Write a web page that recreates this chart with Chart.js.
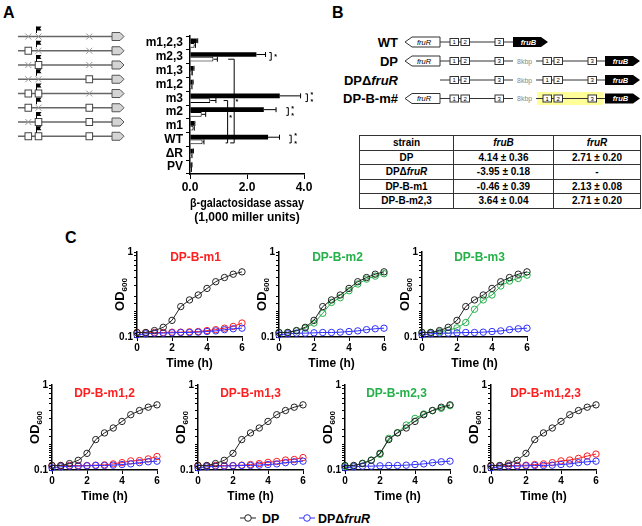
<!DOCTYPE html>
<html>
<head>
<meta charset="utf-8">
<script src="https://cdn.jsdelivr.net/npm/chart.js@4.4.0/dist/chart.umd.min.js"></script>
<style>
body{margin:0;background:#fff;width:642px;height:526px;position:relative;overflow:hidden;font-family:"Liberation Sans",Arial,sans-serif;font-weight:bold;color:#000;}
canvas{position:absolute;}
.letter{position:absolute;font-size:16px;font-weight:bold;}
svg{position:absolute;left:0;top:0;}
table{position:absolute;left:359px;top:135px;width:282px;border-collapse:collapse;font-size:10px;}
td{border:1px solid #333;text-align:center;height:13.5px;padding:0;line-height:13.5px;}
</style>
</head>
<body>
<div class="letter" style="left:3px;top:4px">A</div>
<div class="letter" style="left:332px;top:4px">B</div>
<div class="letter" style="left:65px;top:229px">C</div>
<svg id="schem" width="642" height="526"></svg>
<table>
<tr><td style="width:93px">strain</td><td style="width:99px"><i>fruB</i></td><td><i>fruR</i></td></tr>
<tr><td>DP</td><td>4.14 ± 0.36</td><td>2.71 ± 0.20</td></tr>
<tr><td>DPΔ<i>fruR</i></td><td>-3.95 ± 0.18</td><td>-</td></tr>
<tr><td>DP-B-m1</td><td>-0.46 ± 0.39</td><td>2.13 ± 0.08</td></tr>
<tr><td>DP-B-m2,3</td><td>3.64 ± 0.04</td><td>2.71 ± 0.20</td></tr>
</table>
<canvas id="bars" width="194" height="203" style="left:130px;top:26px"></canvas>
<canvas id="c1" width="158" height="131"></canvas>
<canvas id="c2" width="158" height="131"></canvas>
<canvas id="c3" width="158" height="131"></canvas>
<canvas id="c4" width="158" height="131"></canvas>
<canvas id="c5" width="158" height="131"></canvas>
<canvas id="c6" width="158" height="131"></canvas>
<canvas id="c7" width="158" height="131"></canvas>
<script>
// panel A data (1,000 miller units)
const strains = ['m1,2,3','m2,3','m1,3','m1,2','m3','m2','m1','WT','ΔR','PV'];
const blackMean = [0.24, 2.33, 0.12, 0.09, 3.15, 2.59, 0.15, 2.74, 0.10, 0.06];
const blackErr  = [0.03, 0.32, 0.02, 0.02, 0.73, 0.43, 0.02, 0.40, 0.02, 0.01];
const whiteMean = [0.16, 0.82, 0.06, 0.05, 0.71, 0.41, 0.12, 0.44, 0.05, 0.04];
const whiteErr  = [0.03, 0.14, 0.02, 0.02, 0.20, 0.14, 0.03, 0.05, 0.02, 0.01];
// which promoter sites are intact (1) or mutated (0) per row
const sitePattern = [[0,0,0],[1,0,0],[0,1,0],[0,0,1],[1,1,0],[1,0,1],[0,1,1],[1,1,1]];

// panel C growth curves (OD600)
const timeH = [0,0.5,1,1.5,2,2.5,3,3.5,4,4.5,5,5.5,6];
const dpOD      = [0.113,0.113,0.119,0.130,0.157,0.228,0.273,0.312,0.373,0.447,0.501,0.548,0.584];
const dpDfruOD  = [0.106,0.109,0.111,0.111,0.112,0.113,0.113,0.114,0.116,0.118,0.122,0.125,0.127];
const m1OD      = [0.113,0.112,0.113,0.113,0.114,0.114,0.115,0.116,0.119,0.122,0.127,0.133,0.146];
const m2OD      = [0.113,0.113,0.118,0.127,0.146,0.190,0.255,0.290,0.350,0.420,0.480,0.520,0.555];
const m3OD      = [0.113,0.113,0.115,0.120,0.128,0.148,0.212,0.273,0.312,0.398,0.455,0.488,0.534];
const m12OD     = [0.113,0.112,0.113,0.113,0.113,0.114,0.115,0.118,0.122,0.128,0.129,0.135,0.144];
const m13OD     = [0.113,0.112,0.113,0.113,0.113,0.114,0.116,0.119,0.123,0.126,0.131,0.133,0.140];
const m23OD     = [0.110,0.112,0.120,0.131,0.153,0.236,0.275,0.338,0.405,0.456,0.499,0.531,0.571];
const m123OD    = [0.113,0.112,0.113,0.113,0.114,0.116,0.118,0.122,0.128,0.131,0.137,0.146,0.154];

const RED = '#ff1f1f', GREEN = '#25b04a', BLUE = '#3030ff';

Chart.defaults.font.family = "'Liberation Sans', Arial, sans-serif";
Chart.defaults.font.weight = 'bold';
Chart.defaults.color = '#000';

//---- schematics (A and B) + legend
let s = '';
sitePattern.forEach((p, i) => {
  const y = 36.5 + i * 14.25;
  s += `<line x1="18" y1="${y}" x2="112" y2="${y}" stroke="#666" stroke-width="1.3"/>`;
  [28.3, 38.5, 89.3].forEach((cx, k) => {
    if (p[k]) s += `<rect x="${cx-3.3}" y="${y-3.5}" width="6.6" height="7" fill="#fff" stroke="#444"/>`;
    else s += `<path d="M${cx-3},${y-3}L${cx+3},${y+3}M${cx-3},${y+3}L${cx+3},${y-3}" stroke="#999" stroke-width="1"/>`;
  });
  s += `<path d="M36.5,${y-3.5}V${y-10}" stroke="#000" stroke-width="1"/><path d="M36.5,${y-10}h5l-1.5,2l1.5,2h-5z" fill="#000"/>`;
  s += `<polygon points="112,${y-4} 120,${y-4} 124,${y} 120,${y+4} 112,${y+4}" fill="#d4d4d4" stroke="#555"/>`;
});

function fruR(y){ return `<polygon points="405,${y} 412,${y-5} 440,${y-5} 440,${y+5} 412,${y+5}" fill="#fff" stroke="#333"/><text x="424" y="${y+2.5}" font-size="7.5" font-style="italic" font-weight="normal" text-anchor="middle">fruR</text>`; }
function fruB(x0,x1,y){ return `<polygon points="${x0},${y-5} ${x1-7},${y-5} ${x1},${y} ${x1-7},${y+5} ${x0},${y+5}" fill="#000"/><text x="${(x0+x1)/2-2}" y="${y+2.5}" font-size="7.5" font-style="italic" fill="#fff" text-anchor="middle">fruB</text>`; }
function box(x,y,n){ return `<rect x="${x}" y="${y-3.5}" width="8.5" height="7" fill="#fff" stroke="#333"/><text x="${x+4.25}" y="${y+2.2}" font-size="6" font-weight="normal" text-anchor="middle">${n}</text>`; }
function sites(xa,y){ return box(xa,y,1)+box(xa+11,y,2)+box(xa+45,y,3); }
function label(y, t){ return `<text x="398" y="${y+4.5}" font-size="13" text-anchor="end">${t}</text>`; }

// WT
let y = 42;
s += label(y,'WT') + `<line x1="440" y1="${y}" x2="513" y2="${y}" stroke="#333"/>` + fruR(y) + sites(450,y) + fruB(513,548,y);
// DP, DPdfruR, DP-B-m#
[[61,'DP',true,false],[80,'DPΔ<tspan font-style="italic">fruR</tspan>',false,false],[98.5,'DP-B-m#',true,true]].forEach(r => {
  const yy = r[0];
  if (r[3]) s += `<rect x="537" y="${yy-6.5}" width="66" height="13" fill="#ffff99"/>`;
  s += label(yy, r[1]);
  s += `<line x1="440" y1="${yy}" x2="513" y2="${yy}" stroke="#333"/><line x1="536" y1="${yy}" x2="605" y2="${yy}" stroke="#333"/>`;
  if (r[2]) s += fruR(yy);
  s += sites(450,yy) + sites(543,yy) + `<text x="517" y="${yy+2.5}" font-size="7" font-weight="normal" fill="#888">8kbp</text>` + fruB(605,640,yy);
});

// legend (panel C)
s += `<line x1="240" y1="518" x2="256" y2="518" stroke="#222"/><circle cx="248" cy="518" r="3.3" fill="#fff" stroke="#222"/>`;
s += `<text x="262" y="522.5" font-size="12.5">DP</text>`;
s += `<line x1="299" y1="518" x2="315" y2="518" stroke="${BLUE}"/><circle cx="307" cy="518" r="3.3" fill="#fff" stroke="${BLUE}"/>`;
s += `<text x="318" y="522.5" font-size="12.5">DPΔ<tspan font-style="italic">fruR</tspan></text>`;
document.getElementById('schem').innerHTML = s;

//---- panel A bar chart
const errorBars = {
  id: 'errorBars',
  afterDatasetsDraw(chart) {
    const ctx = chart.ctx, xs = chart.scales.x;
    ctx.save();
    ctx.strokeStyle = '#000';
    ctx.lineWidth = 1;
    chart.data.datasets.forEach((ds, di) => {
      chart.getDatasetMeta(di).data.forEach((bar, i) => {
        const x0 = xs.getPixelForValue(ds.data[i]);
        const x1 = xs.getPixelForValue(ds.data[i] + ds.errors[i]);
        ctx.beginPath();
        ctx.moveTo(x0, bar.y); ctx.lineTo(x1, bar.y);
        ctx.moveTo(x1, bar.y - 2.5); ctx.lineTo(x1, bar.y + 2.5);
        ctx.stroke();
      });
    });
    // significance brackets
    const white = chart.getDatasetMeta(1).data;
    const black = chart.getDatasetMeta(0).data;
    const brackets = [[1, 7, 1.55, 1.34], [4, 7, 1.32, 1.18]];
    brackets.forEach(b => {
      const xv = xs.getPixelForValue(b[2]), xs0 = xs.getPixelForValue(b[3]);
      const y0 = white[b[0]].y, y1 = white[b[1]].y + 1;
      ctx.beginPath();
      ctx.moveTo(xs0, y0); ctx.lineTo(xv, y0); ctx.lineTo(xv, y1); ctx.lineTo(xs0 + 2, y1);
      ctx.stroke();
    });
    ctx.font = 'bold 7px Liberation Sans';
    ctx.textAlign = 'left';
    ctx.textBaseline = 'middle';
    ctx.fillText('*', xs.getPixelForValue(1.6), white[4].y + 2);
    ctx.fillText('*', xs.getPixelForValue(1.38), white[5].y + 4);
    // small brackets at right of pairs
    [[1, 2.85, 1], [4, 4.12, 2], [5, 3.45, 2], [7, 3.55, 2]].forEach(r => {
      const x = xs.getPixelForValue(r[1]);
      const ya = black[r[0]].y - 2, yb = white[r[0]].y + 1;
      ctx.beginPath();
      ctx.moveTo(x - 2, ya); ctx.lineTo(x, ya); ctx.lineTo(x, yb); ctx.lineTo(x - 2, yb);
      ctx.stroke();
      if (r[2] === 1) ctx.fillText('*', x + 3, (ya + yb) / 2 + 1);
      else { ctx.fillText('*', x + 3, ya + 1); ctx.fillText('*', x + 3, yb + 1); }
    });
    ctx.restore();
  }
};

new Chart(document.getElementById('bars'), {
  type: 'bar',
  data: {
    labels: strains,
    datasets: [
      {data: blackMean, errors: blackErr, backgroundColor: '#000', borderColor: '#000', borderWidth: 0},
      {data: whiteMean, errors: whiteErr, backgroundColor: '#fff', borderColor: '#000', borderWidth: 1}
    ]
  },
  options: {
    indexAxis: 'y',
    responsive: false,
    animation: false,
    categoryPercentage: 0.68,
    barPercentage: 1,
    layout: {padding: {top: 8, right: 20, left: 0, bottom: 0}},
    plugins: {legend: {display: false}, tooltip: {enabled: false}},
    scales: {
      x: {
        min: 0, max: 4,
        ticks: {stepSize: 2, font: {size: 12}, callback: v => v.toFixed(1), padding: 1},
        grid: {drawOnChartArea: false, tickLength: 5, color: '#000'},
        border: {color: '#000', width: 1.5},
        title: {display: true, text: ['β-galactosidase assay', '(1,000 miller units)'], font: {size: 12}},
        afterFit: sc => { sc.height = 55; }
      },
      y: {
        ticks: {autoSkip: false, font: {size: 12}, padding: 3},
        grid: {drawOnChartArea: false, tickLength: 4, color: '#000', offset: true},
        border: {color: '#000', width: 1.5},
        afterFit: sc => { sc.width = 60; }
      }
    }
  },
  plugins: [errorBars]
});

//---- panel C growth charts
const odLabel = {
  id: 'odLabel',
  afterDraw(chart, args, opts) {
    const ctx = chart.ctx, a = chart.chartArea;
    ctx.save();
    // y title OD600
    ctx.translate(a.left - 13.5, (a.top + a.bottom) / 2);
    ctx.rotate(-Math.PI / 2);
    ctx.font = 'bold 13px Liberation Sans';
    const w1 = ctx.measureText('OD').width;
    ctx.font = 'bold 8px Liberation Sans';
    const w2 = ctx.measureText('600').width;
    ctx.textAlign = 'left';
    ctx.textBaseline = 'alphabetic';
    ctx.fillStyle = '#000';
    ctx.font = 'bold 13px Liberation Sans';
    ctx.fillText('OD', -(w1 + w2) / 2, 0);
    ctx.font = 'bold 8px Liberation Sans';
    ctx.fillText('600', -(w1 + w2) / 2 + w1, 3);
    ctx.restore();
    // panel title inside the plot area
    ctx.save();
    ctx.font = 'bold 12px Liberation Sans';
    ctx.fillStyle = opts.color;
    ctx.textAlign = 'center';
    ctx.textBaseline = 'middle';
    ctx.fillText(opts.text, (a.left + a.right) / 2 + opts.dx, a.top + opts.dy);
    ctx.restore();
  }
};

function series(vals, color) {
  return {
    data: timeH.map((t, i) => ({x: t, y: vals[i]})),
    borderColor: color, borderWidth: 1,
    pointRadius: 3.2, pointBorderWidth: 1,
    pointBackgroundColor: 'rgba(255,255,255,0)', pointBorderColor: color
  };
}

function growthChart(id, left, top, title, color, mutant, dx, dy) {
  const cv = document.getElementById(id);
  cv.style.left = (left - 45) + 'px';
  cv.style.top = (top - 8) + 'px';
  new Chart(cv, {
    type: 'line',
    data: {datasets: [series(dpOD, '#222'), series(dpDfruOD, BLUE), series(mutant, color)]},
    options: {
      responsive: false,
      animation: false,
      clip: false,
      layout: {padding: {top: 8, right: 8, left: 0, bottom: 0}},
      plugins: {legend: {display: false}, tooltip: {enabled: false},
        odLabel: {text: title, color: color, dx: dx, dy: dy}},
      scales: {
        x: {
          type: 'linear', min: 0, max: 6,
          ticks: {stepSize: 2, font: {size: 10}, padding: 1},
          grid: {drawOnChartArea: false, tickLength: 4, color: '#000'},
          border: {color: '#000', width: 1.5},
          title: {display: true, text: 'Time (h)', font: {size: 12}},
          afterFit: sc => { sc.height = 38; }
        },
        y: {
          type: 'logarithmic', min: 0.1, max: 1,
          ticks: {autoSkip: false, font: {size: 10}, padding: 1,
            callback: v => (Math.abs(v - 1) < 1e-9 ? '1' : (Math.abs(v - 0.1) < 1e-9 ? '0.1' : ''))},
          grid: {drawOnChartArea: false, tickLength: 3, color: '#000'},
          border: {color: '#000', width: 1.5},
          afterFit: sc => { sc.width = 45; }
        }
      }
    },
    plugins: [odLabel]
  });
}

growthChart('c1', 137, 252, 'DP-B-m1', RED, m1OD, 6, 6);
growthChart('c2', 279, 252, 'DP-B-m2', GREEN, m2OD, 6, 6);
growthChart('c3', 422, 252, 'DP-B-m3', GREEN, m3OD, 5, 6);
growthChart('c4', 52, 385, 'DP-B-m1,2', RED, m12OD, 0, 9);
growthChart('c5', 198, 385, 'DP-B-m1,3', RED, m13OD, 0, 9);
growthChart('c6', 345, 385, 'DP-B-m2,3', GREEN, m23OD, -1, 9);
growthChart('c7', 491, 385, 'DP-B-m1,2,3', RED, m123OD, 2, 9);
</script>
</body>
</html>
